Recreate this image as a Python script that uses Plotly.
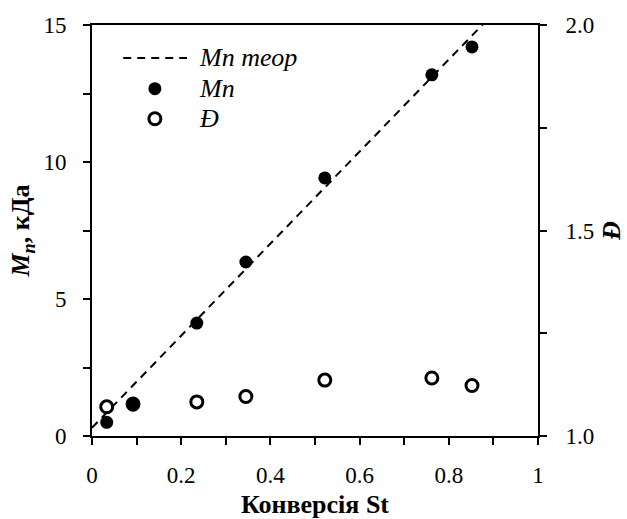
import plotly.graph_objects as go

# Conversion of styrene (St) for each sample
conversion = [0.033, 0.092, 0.235, 0.345, 0.522, 0.762, 0.852]
# Experimental number-average molar mass, kDa
mn_exp = [0.50, 1.13, 4.12, 6.35, 9.42, 13.18, 14.20]
# Dispersity Đ
dispersity = [1.071, 1.078, 1.083, 1.096, 1.136, 1.141, 1.123]
# Theoretical Mn line (end points)
theor_conv = [0.0, 0.95]
theor_mn = [0.30, 16.26]

FONT = "Liberation Serif, Times New Roman, serif"
TICK_SIZE = 23
TITLE_SIZE = 26
LEGEND_SIZE = 26
DASH = "8px,6px"
fig = go.Figure()

# Đ lives on the base axis (right side) so the Mn layer is drawn above it
fig.add_trace(go.Scatter(
    x=conversion, y=dispersity, mode="markers", name="Đ", yaxis="y",
    marker=dict(symbol="circle", size=12, color="white",
                line=dict(color="black", width=3)),
))
fig.add_trace(go.Scatter(
    x=theor_conv, y=theor_mn, mode="lines", name="Mn теор", yaxis="y2",
    line=dict(color="black", width=2, dash=DASH),
))
fig.add_trace(go.Scatter(
    x=conversion, y=mn_exp, mode="markers", name="Mn", yaxis="y2",
    marker=dict(symbol="circle", size=13, color="black",
                line=dict(color="black", width=0)),
))

# Hand-built legend in the upper-left corner of the plot area
legend_rows = [0.920, 0.845, 0.772]
sym_x, line_x0, line_x1, text_x = 0.141, 0.070, 0.213, 0.236
shapes = [
    dict(type="line", xref="paper", yref="paper",
         x0=line_x0, x1=line_x1, y0=legend_rows[0], y1=legend_rows[0],
         line=dict(color="black", width=2, dash=DASH)),
    dict(type="circle", xref="paper", yref="paper",
         xsizemode="pixel", ysizemode="pixel",
         xanchor=sym_x, yanchor=legend_rows[1],
         x0=-6.5, x1=6.5, y0=-6.5, y1=6.5,
         fillcolor="black", line=dict(color="black", width=0)),
    dict(type="circle", xref="paper", yref="paper",
         xsizemode="pixel", ysizemode="pixel",
         xanchor=sym_x, yanchor=legend_rows[2],
         x0=-6, x1=6, y0=-6, y1=6,
         fillcolor="white", line=dict(color="black", width=3)),
]
legend_labels = ["<i>Mn теор</i>", "<i>Mn</i>", "<i>Đ</i>"]
annotations = [
    dict(text=lab, xref="paper", yref="paper", x=text_x, y=yy,
         xanchor="left", yanchor="middle", showarrow=False,
         font=dict(family=FONT, size=LEGEND_SIZE, color="black"))
    for lab, yy in zip(legend_labels, legend_rows)
]

axis_common = dict(
    showline=True, linecolor="black", linewidth=2,
    ticks="outside", ticklen=7, tickwidth=2, tickcolor="black",
    showgrid=False, zeroline=False, automargin=False,
    tickfont=dict(family=FONT, size=TICK_SIZE, color="black"),
)
minor_common = dict(ticks="outside", ticklen=7, tickwidth=2, tickcolor="black")

fig.update_layout(
    width=627, height=519,
    margin=dict(l=92, r=89, t=25, b=83, autoexpand=False),
    paper_bgcolor="white", plot_bgcolor="white",
    font=dict(family=FONT, size=TICK_SIZE, color="black"),
    showlegend=False,
    shapes=shapes,
    annotations=annotations,
    xaxis=dict(
        range=[0, 1], dtick=0.2, mirror=True,
        minor=dict(dtick=0.1, **minor_common),
        ticklabelstandoff=10,
        title=dict(text="<b>Конверсія St</b>",
                   font=dict(family=FONT, size=TITLE_SIZE), standoff=12),
        **axis_common,
    ),
    yaxis=dict(
        range=[1, 2], dtick=0.5, tickformat=".1f", side="right",
        minor=dict(dtick=0.25, **minor_common),
        ticklabelstandoff=14,
        title=dict(text="<b><i>Đ</i></b>",
                   font=dict(family=FONT, size=TITLE_SIZE), standoff=8),
        **axis_common,
    ),
    yaxis2=dict(
        range=[0, 15], dtick=5, side="left", overlaying="y",
        minor=dict(dtick=2.5, **minor_common),
        ticklabelstandoff=12,
        title=dict(text="<b><i>M</i><sub><i>n</i></sub>, кДа</b>",
                   font=dict(family=FONT, size=TITLE_SIZE), standoff=6),
        **axis_common,
    ),
)

fig.write_html("out.html")
